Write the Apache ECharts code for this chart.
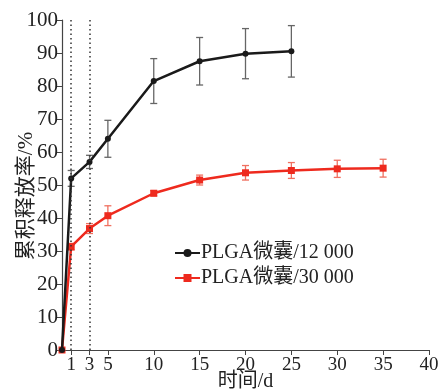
<!DOCTYPE html>
<html><head><meta charset="utf-8">
<script src="https://cdn.jsdelivr.net/npm/echarts@6/dist/echarts.min.js"></script>
<style>html,body{margin:0;padding:0;background:#fff}#c{width:440px;height:392px}</style>
</head><body><div id="c"></div>
<script>
var seriesNames = ['PLGA微囊/12 000', 'PLGA微囊/30 000'];
var timeA = [0, 1, 3, 5, 10, 15, 20, 25];
var releaseA = [0, 52, 57, 64, 81.5, 87.5, 89.8, 90.5];
var errA = [0, 2.4, 2, 5.6, 6.8, 7.2, 7.6, 7.8];
var timeB = [0, 1, 3, 5, 10, 15, 20, 25, 30, 35];
var releaseB = [0, 31.3, 36.8, 40.7, 47.5, 51.5, 53.7, 54.4, 54.9, 55.1];
var errB = [0, 1, 1.5, 3, 0.8, 1.5, 2.2, 2.4, 2.6, 2.7];
var xTickLabels = [1, 3, 5, 10, 15, 20, 25, 30, 35, 40];
var dottedAt = [1, 3];

var FONT = 'Liberation Serif, "Noto Sans CJK SC", serif';

function pairs(xs, ys) { return xs.map(function (x, i) { return [x, ys[i]]; }); }
function errData(xs, ys, es) {
  var out = [];
  xs.forEach(function (x, i) { if (es[i] > 0) out.push([x, ys[i] - es[i], ys[i] + es[i]]); });
  return out;
}
function errSeries(data, color) {
  return {
    type: 'custom', silent: true, z: 1,
    data: data,
    encode: { x: 0, y: [1, 2] },
    renderItem: function (params, api) {
      var x = api.value(0);
      var lo = api.coord([x, api.value(1)]);
      var hi = api.coord([x, api.value(2)]);
      var w = 3.5;
      var st = { stroke: color, lineWidth: 1.3 };
      return {
        type: 'group', children: [
          { type: 'line', shape: { x1: lo[0], y1: lo[1], x2: hi[0], y2: hi[1] }, style: st },
          { type: 'line', shape: { x1: lo[0] - w, y1: lo[1], x2: lo[0] + w, y2: lo[1] }, style: st },
          { type: 'line', shape: { x1: hi[0] - w, y1: hi[1], x2: hi[0] + w, y2: hi[1] }, style: st }
        ]
      };
    }
  };
}

var chart = echarts.init(document.getElementById('c'));
chart.setOption({
  animation: false,
  grid: { left: 62, right: 11, top: 20, bottom: 42, outerBoundsMode: 'none', containLabel: false },
  legend: {
    data: seriesNames,
    orient: 'vertical',
    left: 174, top: 243,
    itemWidth: 25, itemHeight: 10, itemGap: 5, padding: 0,
    textStyle: { fontFamily: FONT, fontSize: 20, color: '#222', padding: [0, 0, 0, -4] }
  },
  xAxis: {
    type: 'value', min: 0, max: 40,
    name: '时间/d', nameLocation: 'middle', nameGap: 22, nameMoveOverlap: false,
    nameTextStyle: { fontFamily: FONT, fontSize: 20, color: '#222', verticalAlign: 'top' },
    axisLine: { lineStyle: { color: '#444', width: 1.2 } },
    axisTick: { show: true, customValues: xTickLabels, length: 5, lineStyle: { color: '#444' } },
    axisLabel: { customValues: xTickLabels, fontFamily: FONT, fontSize: 19, color: '#222', margin: 6 },
    splitLine: { show: false }
  },
  yAxis: {
    type: 'value', min: 0, max: 100, interval: 10,
    name: '累积释放率/%', nameLocation: 'middle', nameGap: 25, nameMoveOverlap: false,
    nameTextStyle: { fontFamily: FONT, fontSize: 21, color: '#222', padding: [0, 22, 0, 0] },
    axisLine: { show: true, lineStyle: { color: '#444', width: 1.2 } },
    axisTick: { show: true, length: 5, lineStyle: { color: '#444' } },
    axisLabel: { fontFamily: FONT, fontSize: 21, color: '#222', margin: 4 },
    splitLine: { show: false }
  },
  series: [
    errSeries(errData(timeA, releaseA, errA), '#666'),
    errSeries(errData(timeB, releaseB, errB), '#f07060'),
    {
      name: seriesNames[0], type: 'line', z: 3,
      data: pairs(timeA, releaseA),
      symbol: 'circle', symbolSize: 6,
      lineStyle: { color: '#1a1a1a', width: 2.5 },
      itemStyle: { color: '#1a1a1a' },
      markLine: {
        silent: true, symbol: 'none', label: { show: false },
        lineStyle: { type: [1.5, 3], color: '#333', width: 1.5 },
        data: dottedAt.map(function (v) { return [{ coord: [v, 0] }, { coord: [v, 100] }]; })
      }
    },
    {
      name: seriesNames[1], type: 'line', z: 2,
      data: pairs(timeB, releaseB),
      symbol: 'rect', symbolSize: 7,
      lineStyle: { color: '#ee2a1e', width: 2.5 },
      itemStyle: { color: '#ee2a1e' }
    }
  ]
});
</script></body></html>
